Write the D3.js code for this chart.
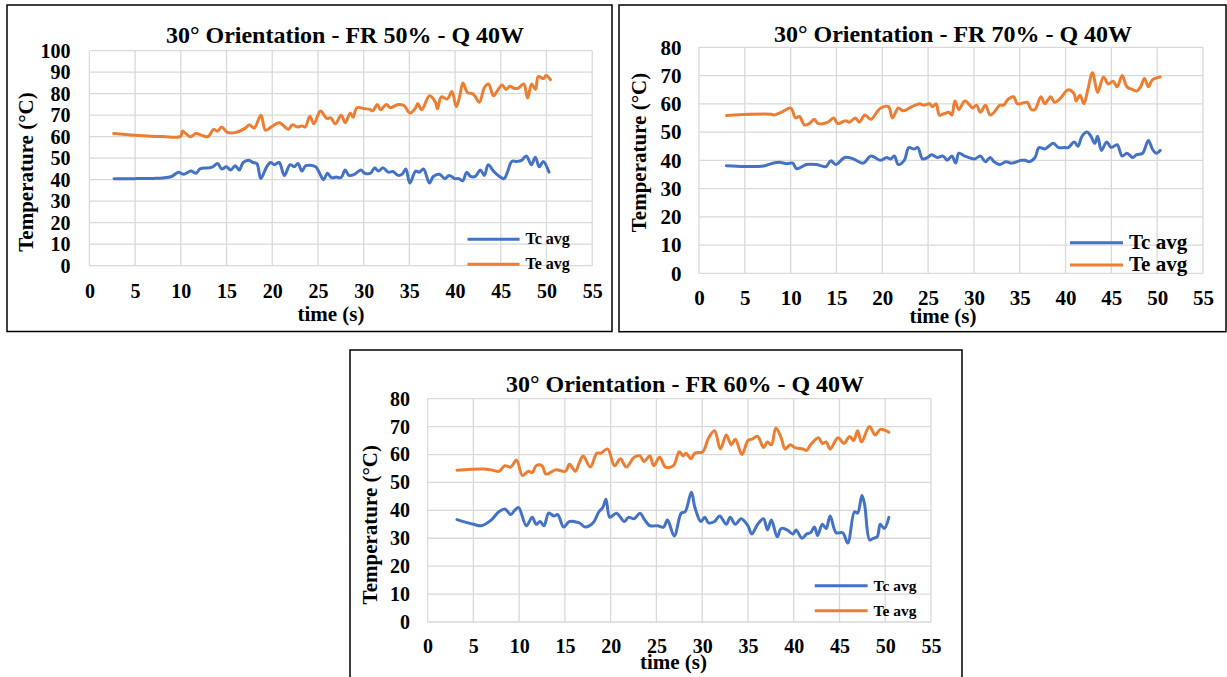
<!DOCTYPE html>
<html>
<head>
<meta charset="utf-8">
<script src="https://cdn.jsdelivr.net/npm/d3@7"></script>
<style>
  body { margin: 0; background: #fff; }
  text { font-family: "Liberation Serif", "Times New Roman", serif; font-weight: bold; fill: #000; }
</style>
</head>
<body>
<svg id="fig" width="1227" height="677"></svg>
<script>
// tick labels
let xTicks = [0, 5, 10, 15, 20, 25, 30, 35, 40, 45, 50, 55];
let yTicks100 = [0, 10, 20, 30, 40, 50, 60, 70, 80, 90, 100];
let yTicks80 = [0, 10, 20, 30, 40, 50, 60, 70, 80];
let seriesNames = ['Tc avg', 'Te avg'];

// FR 50% - time (s) and temperature (°C)
let t50Tc = [2.7, 5, 7, 8, 9, 9.74, 10.3, 11.1, 11.67, 12.1, 13, 13.5, 14.03, 14.46, 15, 15.44, 15.96, 16.39, 16.82, 17.46, 17.89, 18.32, 18.75, 19.39, 19.82, 20.25, 20.76, 21.32, 21.96, 22.4, 22.82, 23.25, 23.68, 24.75, 25.18, 25.61, 26.04, 26.47, 27, 27.54, 27.97, 28.4, 29, 29.69, 30.12, 30.76, 31.19, 31.62, 32.13, 32.69, 33.2, 33.76, 34.2, 34.62, 35.05, 35.69, 36.1, 36.55, 37.19, 37.62, 38.27, 38.91, 39.34, 39.98, 40.41, 40.84, 41.27, 41.7, 42.21, 42.77, 43.2, 43.63, 44.19, 44.7, 45.35, 45.77, 46.2, 46.76, 47.28, 47.79, 48.35, 48.78, 49.21, 49.64, 50.28];
let tc50 = [40.5, 40.5, 40.6, 40.8, 41.5, 43.5, 42.5, 44, 43, 45, 45.5, 46, 47.5, 45, 46, 44.5, 46.5, 44.5, 48, 49, 48, 47.5, 40.5, 46, 48, 47, 48, 42, 47, 46, 47.5, 44, 46.5, 46, 43, 40, 43, 41, 41.2, 41, 44.5, 42, 42.5, 44.5, 43, 43, 45.5, 44, 45.5, 43.5, 43.8, 42, 42.5, 45, 38.5, 44, 43.5, 45, 38.5, 41.5, 42.5, 40.5, 42, 40.5, 40.5, 39.5, 43.5, 41.5, 41.5, 44.5, 42, 47, 44, 42, 40.5, 44, 48.5, 48.5, 49, 51, 47, 50.5, 46, 48.5, 43.5];
let t50Te = [2.66, 5, 8, 10, 10.17, 11.03, 11.67, 12.3, 12.96, 13.6, 14, 14.46, 15.1, 16, 17.04, 17.5, 18.03, 18.76, 19.27, 20.04, 20.77, 21.76, 22.19, 22.8, 23.26, 23.6, 24.12, 24.55, 25.28, 25.97, 26.4, 26.9, 27.55, 27.98, 28.54, 28.84, 29.27, 30.13, 30.6, 30.99, 31.5, 31.85, 32.49, 32.92, 33.78, 34.4, 35.06, 35.7, 35.92, 36.35, 37.2, 37.85, 38.07, 38.5, 39.14, 39.66, 40.13, 40.52, 40.86, 41.37, 41.9, 42.15, 42.66, 43.22, 43.65, 44.2, 44.5, 45.15, 45.58, 46, 46.44, 46.87, 47.51, 47.94, 48.37, 48.8, 49.1, 49.66, 49.96, 50.43];
let te50 = [61.5, 60.7, 60.1, 60.2, 62.6, 60, 61.5, 60.6, 60, 63.5, 62.5, 64.5, 62, 62, 64, 65.5, 64, 70, 63, 65, 66.5, 63.5, 65.5, 64.5, 65, 64.5, 69.5, 66, 72, 68.5, 68.8, 66, 70, 66.5, 71, 69, 73.5, 73, 72.8, 72, 75, 72.5, 75, 73.5, 75, 74.5, 71, 73.5, 75.5, 72.5, 79, 76, 73, 78.5, 77.5, 81, 74, 79, 85, 80.5, 80, 79, 76, 83, 84.5, 79, 80.5, 84, 82, 83.5, 82.5, 82.5, 84.5, 78, 84.5, 82, 88, 87, 88.5, 86.5];

// FR 70%
let t70Tc = [2.99, 5, 7.04, 7.89, 8.74, 9.59, 10.23, 10.66, 11.73, 12.79, 13.86, 14.37, 14.93, 15.91, 16.84, 17.91, 18.76, 19.83, 20.47, 20.9, 21.32, 21.75, 22.39, 22.9, 23.45, 23.88, 24.39, 24.95, 25.37, 26.01, 26.65, 27.08, 27.59, 28.01, 28.36, 29, 30.06, 30.7, 31.26, 31.77, 32.2, 32.84, 33.48, 34.12, 35.18, 35.61, 36.03, 36.67, 37.1, 37.74, 38.17, 38.68, 39.23, 39.87, 40.3, 40.94, 41.36, 41.79, 42.35, 42.77, 43.2, 43.5, 43.92, 44.48, 44.99, 45.63, 46.18, 46.7, 47.33, 47.76, 48.4, 49.04, 49.47, 49.89, 50.32];
let tc70 = [38.1, 37.8, 38, 38.8, 39.3, 38.8, 39, 37, 38.5, 38.5, 37.8, 39.8, 38.5, 41, 40.5, 39, 41.5, 40, 41, 40.5, 41.5, 38.5, 40, 44.5, 44, 44.5, 40.5, 41, 42, 41, 41.5, 40, 41.5, 39, 42.5, 41.5, 40.5, 41.5, 39.5, 41, 39.5, 38.5, 39.5, 39, 40, 40, 39.5, 41, 44.5, 44, 45, 46, 44.5, 44.5, 44.5, 46.5, 45, 48.5, 50, 48.5, 46, 48.5, 43.5, 46.5, 44.5, 45.5, 41.5, 42.5, 41, 42, 42.5, 47, 44, 42.5, 43.5];
let t70Te = [2.99, 7.89, 8.19, 8.96, 10.02, 10.53, 10.96, 11.51, 12.03, 12.58, 13, 14.07, 14.71, 15.14, 15.99, 16.42, 17.06, 17.48, 18.12, 18.76, 19.4, 19.83, 20.68, 21.11, 21.75, 22.3, 23.24, 24.09, 24.52, 25.16, 25.46, 25.88, 26.23, 26.74, 27.29, 27.59, 27.93, 28.36, 29, 29.42, 29.85, 30.28, 30.7, 31.26, 31.77, 32.2, 32.84, 33.26, 33.69, 34.33, 34.75, 35.82, 36.25, 36.67, 37.31, 37.74, 38.38, 38.81, 39.45, 40.3, 40.94, 41.15, 41.58, 42, 42.43, 42.94, 43.5, 44.14, 44.65, 45.2, 45.63, 46.18, 46.7, 47.33, 47.76, 48.19, 48.61, 49.04, 49.47, 50.32];
let te70 = [55.9, 56.3, 56, 57, 58.5, 55, 55.5, 52.5, 53, 54.5, 53, 53.5, 55, 53, 54, 53.5, 55, 53.5, 56, 54.5, 57, 58.5, 59, 55, 58.5, 57.5, 59, 60, 59.5, 60, 59, 60, 56, 56.5, 57, 56, 61, 58, 61, 60, 58.5, 59.5, 57, 59.5, 56, 57, 59.5, 59.5, 61.5, 62.5, 60, 60.5, 58, 58, 62.5, 60, 62.5, 60.5, 62, 65, 63.5, 61, 63, 60, 65, 71, 64, 69.5, 67, 68, 66, 70, 66, 65, 64.5, 66, 69, 66, 68.5, 69.5];

// FR 60%
let t60Tc = [3.21, 5.01, 5.87, 6.94, 7.79, 8.44, 9.08, 9.51, 9.94, 10.79, 11.43, 11.86, 12.29, 12.72, 13.23, 13.79, 14.22, 14.86, 15.5, 16.57, 17.22, 18.07, 18.72, 19.14, 19.49, 19.91, 20.64, 21.5, 21.93, 22.57, 23.21, 23.64, 24.28, 25.14, 25.78, 26.21, 26.95, 27.71, 28.14, 28.82, 29.21, 29.85, 30.28, 30.71, 31.35, 31.91, 32.63, 33.06, 33.62, 34.26, 34.99, 35.42, 36.06, 36.7, 37.13, 37.56, 38.2, 38.63, 39.27, 39.91, 40.26, 40.9, 41.41, 41.84, 42.27, 42.61, 43.13, 43.55, 43.98, 44.63, 45.35, 45.91, 46.64, 46.98, 47.45, 47.75, 48.3, 48.69, 49.12, 49.46, 49.89, 50.4];
let tc60 = [36.7, 35, 34.5, 36.5, 39.5, 40.5, 38.5, 40, 41, 34.5, 37.5, 35, 36, 34.5, 39, 38, 38.5, 34, 36, 35.5, 34, 35.5, 39.5, 41, 44, 37.5, 39, 36, 37.5, 37, 39, 37, 34.5, 34.5, 34, 36.5, 30.8, 39, 39.5, 46.5, 41, 36, 37.5, 35.5, 36, 38, 35, 37.5, 35, 37, 34.5, 31.5, 35, 37, 33, 36.5, 30.5, 33.5, 33, 31.5, 33, 30, 31.5, 32, 34, 31, 35, 33.5, 38, 32, 32, 28.3, 39.5, 39, 45.3, 42, 29.4, 30, 30.5, 35, 33.5, 37.5];
let t60Te = [3.21, 6.08, 6.94, 7.79, 8.44, 9.08, 9.72, 10.36, 11.01, 11.43, 11.86, 12.51, 12.93, 14, 15.07, 15.5, 16.15, 16.57, 17, 17.77, 18.5, 18.93, 19.66, 20.43, 21.07, 21.71, 22.57, 23.21, 23.64, 24.28, 24.71, 25.35, 25.99, 26.85, 27.49, 27.92, 28.22, 28.78, 29.21, 30.06, 30.71, 31.35, 31.99, 32.63, 33.19, 33.62, 34.35, 34.99, 35.42, 36.06, 36.7, 37.13, 37.56, 38.05, 38.63, 39.06, 39.61, 40.13, 40.99, 41.41, 41.84, 42.7, 43.13, 43.55, 43.98, 44.84, 45.48, 46.12, 46.55, 46.98, 47.41, 48.27, 48.91, 49.46, 50.4];
let te60 = [54.4, 54.8, 54.5, 54, 56, 55.5, 58, 52.5, 54, 53.5, 56, 56, 53, 54.5, 54, 56.5, 54, 57, 59.5, 55.5, 60.5, 60.5, 62, 56, 58.5, 55.5, 59, 59.5, 57.5, 59.5, 56, 59, 55.5, 56, 61, 59.5, 60.5, 58.5, 60.5, 61, 66, 68.5, 62, 67, 63.5, 65.5, 60, 65, 65.5, 66.5, 62.5, 64.5, 63.5, 69.5, 66, 62, 63.5, 62.5, 62, 61.5, 63.5, 66, 64, 64.5, 62, 66, 64, 66.5, 65, 68.5, 64.5, 70, 67, 69, 68];

let svg = d3.select('#fig');

// draws one framed chart; o holds the layout (pixels) for that panel
function drawChart(o) {
    let g = svg.append('g');

    // frame round the panel
    g.append('rect')
        .attr('x', o.frame[0]).attr('y', o.frame[1])
        .attr('width', o.frame[2] - o.frame[0]).attr('height', o.frame[3] - o.frame[1])
        .attr('fill', 'none').attr('stroke', '#000').attr('stroke-width', 1.5);

    let x = d3.scaleLinear().domain([0, 55]).range([o.left, o.right]);
    let y = d3.scaleLinear().domain([0, o.yMax]).range([o.bottom, o.top]);

    // grid
    g.append('g').selectAll('line').data(o.yTicks).join('line')
        .attr('x1', o.left).attr('x2', o.right)
        .attr('y1', d => y(d)).attr('y2', d => y(d))
        .attr('stroke', '#d9d9d9').attr('stroke-width', 1.3);
    g.append('g').selectAll('line').data(xTicks).join('line')
        .attr('x1', d => x(d)).attr('x2', d => x(d))
        .attr('y1', o.top).attr('y2', o.bottom)
        .attr('stroke', '#d9d9d9').attr('stroke-width', 1.3);

    // axes (labels only, Excel style)
    let ya = g.append('g')
        .attr('transform', `translate(${o.left},0)`)
        .call(d3.axisLeft(y).tickValues(o.yTicks).tickSize(0).tickPadding(o.yPad));
    ya.select('.domain').remove();
    ya.selectAll('text').style('font-size', o.tickFont + 'px')
        .style('font-family', '"Liberation Serif", serif').style('font-weight', 'bold');

    let xa = g.append('g')
        .attr('transform', `translate(0,${o.bottom})`)
        .call(d3.axisBottom(x).tickValues(xTicks).tickSize(0).tickPadding(o.xPad));
    xa.select('.domain').remove();
    xa.selectAll('text').style('font-size', o.tickFont + 'px')
        .style('font-family', '"Liberation Serif", serif').style('font-weight', 'bold');

    // titles
    g.append('text').text(o.title)
        .attr('x', o.titleX).attr('y', o.titleY)
        .attr('text-anchor', 'middle').style('font-size', '24px');
    g.append('text').text('time (s)')
        .attr('x', o.xLabX).attr('y', o.xLabY)
        .attr('text-anchor', 'middle').style('font-size', '21px');
    g.append('text').text('Temperature (°C)')
        .attr('transform', `translate(${o.yLabX},${o.yLabY}) rotate(-90)`)
        .attr('text-anchor', 'middle').attr('dy', '0.35em').style('font-size', '21px');

    // series
    let line = d3.line()
        .x(d => x(d[0]))
        .y(d => y(d[1]))
        .curve(d3.curveCatmullRom.alpha(0.5));
    let series = [
        { pts: d3.zip(o.tTc, o.tc), color: '#4472c4' },
        { pts: d3.zip(o.tTe, o.te), color: '#ed7d31' }
    ];
    g.selectAll('.series').data(series).join('path')
        .attr('class', 'series')
        .attr('d', d => line(d.pts))
        .attr('fill', 'none')
        .attr('stroke', d => d.color)
        .attr('stroke-width', 3)
        .attr('stroke-linejoin', 'round')
        .attr('stroke-linecap', 'round');

    // legend
    let leg = g.selectAll('.leg').data(seriesNames).join('g')
        .attr('class', 'leg')
        .attr('transform', (d, i) => `translate(0,${o.legY[i]})`);
    leg.append('line')
        .attr('x1', o.legX[0]).attr('x2', o.legX[1])
        .attr('stroke', (d, i) => series[i].color).attr('stroke-width', 3);
    leg.append('text').text(d => d)
        .attr('x', o.legX[2]).attr('y', o.legDy)
        .style('font-size', o.legFont + 'px');
}

drawChart({
    frame: [7, 5, 612, 331.5],
    left: 89.4, right: 592.2, top: 50.7, bottom: 265.7,
    yMax: 100, yTicks: yTicks100, yPad: 19, xPad: 18.4, tickFont: 20,
    title: '30° Orientation - FR 50% - Q 40W', titleX: 345, titleY: 43,
    xLabX: 331, xLabY: 321, yLabX: 25.5, yLabY: 172,
    tTc: t50Tc, tc: tc50, tTe: t50Te, te: te50,
    legX: [467.5, 519.6, 525.5], legY: [239.3, 264.3], legDy: 4.5, legFont: 16
});

drawChart({
    frame: [619, 5, 1226, 331.7],
    left: 699, right: 1203, top: 47.3, bottom: 273.3,
    yMax: 80, yTicks: yTicks80, yPad: 17.6, xPad: 16.8, tickFont: 21,
    title: '30° Orientation - FR 70% - Q 40W', titleX: 953, titleY: 41.7,
    xLabX: 943, xLabY: 323, yLabX: 638.4, yLabY: 152.5,
    tTc: t70Tc, tc: tc70, tTe: t70Te, te: te70,
    legX: [1070, 1123, 1129], legY: [242.7, 265], legDy: 6, legFont: 21
});

drawChart({
    frame: [350, 350, 962, 680],
    left: 427.6, right: 931, top: 398.7, bottom: 622,
    yMax: 80, yTicks: yTicks80, yPad: 17.6, xPad: 16.8, tickFont: 20,
    title: '30° Orientation - FR 60% - Q 40W', titleX: 685, titleY: 392,
    xLabX: 673.5, xLabY: 669, yLabX: 369.6, yLabY: 524.7,
    tTc: t60Tc, tc: tc60, tTe: t60Te, te: te60,
    legX: [814.7, 867.6, 873.5], legY: [585.7, 610.7], legDy: 5, legFont: 15.5
});
</script>
</body>
</html>
